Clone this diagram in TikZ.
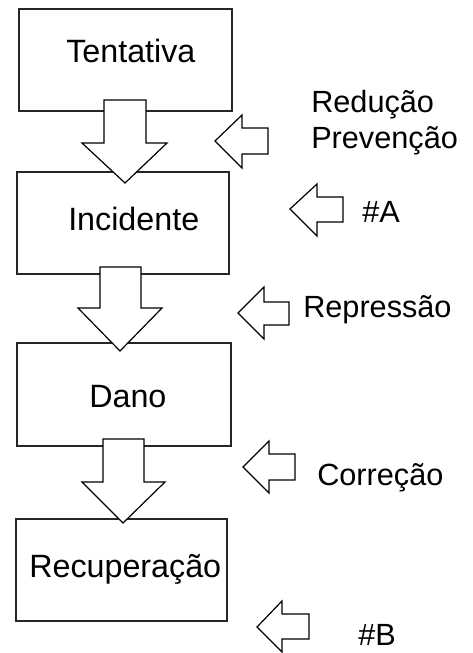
\documentclass[tikz,border=0pt]{standalone}
\usepackage{fontspec}
\setmainfont{Liberation Sans}
\begin{document}
\begin{tikzpicture}[x=0.75pt,y=-0.75pt,
  box/.style={draw=black!85, line width=0.8pt},
  blk/.style={draw=black, fill=white, line width=0.9pt, line join=miter},
  txt/.style={anchor=base west, inner sep=0pt, font=\fontsize{23}{27}\selectfont},
  btxt/.style={anchor=base west, inner sep=0pt, font=\fontsize{24.2}{28}\selectfont}]
\useasboundingbox (0,0) rectangle (473,653);
% boxes
\draw[box] (19,9) rectangle (232,111);
\draw[box] (17,172) rectangle (229,274);
\draw[box] (17,343) rectangle (231,446);
\draw[box] (16,519) rectangle (227,621);
% texts in boxes
\node[btxt] (t1) at (66,62) {Tentativa};
\node[btxt] (t2) at (68,230) {Incidente};
\node[btxt] (t3) at (89,407) {Dano};
\node[btxt] (t4) at (29,577) {Recuperação};
% down block arrows
\draw[blk] (104,100) -- (146,100) -- (146,143) -- (167,143) -- (125,183) -- (82,143) -- (104,143) -- cycle;
\draw[blk] (100,267) -- (141,267) -- (141,308) -- (162,308) -- (120,351) -- (78,308) -- (100,308) -- cycle;
\draw[blk] (103,439) -- (144,439) -- (144,482) -- (165,482) -- (123,523) -- (82,482) -- (103,482) -- cycle;
% left block arrows
\draw[blk] (215,141) -- (242,115) -- (242,128) -- (268,128) -- (268,154) -- (242,154) -- (242,168) -- cycle;
\draw[blk] (290,209) -- (317,184) -- (317,197) -- (343,197) -- (343,222) -- (317,222) -- (317,236) -- cycle;
\draw[blk] (238,313) -- (264,287) -- (264,302) -- (289,302) -- (289,325) -- (264,325) -- (264,339) -- cycle;
\draw[blk] (243,467) -- (269,441) -- (269,454) -- (295,454) -- (295,480) -- (269,480) -- (269,493) -- cycle;
\draw[blk] (257,627) -- (282,601) -- (282,614) -- (309,614) -- (309,639) -- (282,639) -- (282,652) -- cycle;
% side labels
\node[txt] (s1) at (311,112) {Redução};
\node[txt] (s2) at (311,148) {Prevenção};
\node[txt] (s3) at (362,222) {\#A};
\node[txt] (s4) at (303,317) {Repressão};
\node[txt] (s5) at (317,485) {Correção};
\node[txt] (s6) at (358,645) {\#B};
\end{tikzpicture}
\end{document}
